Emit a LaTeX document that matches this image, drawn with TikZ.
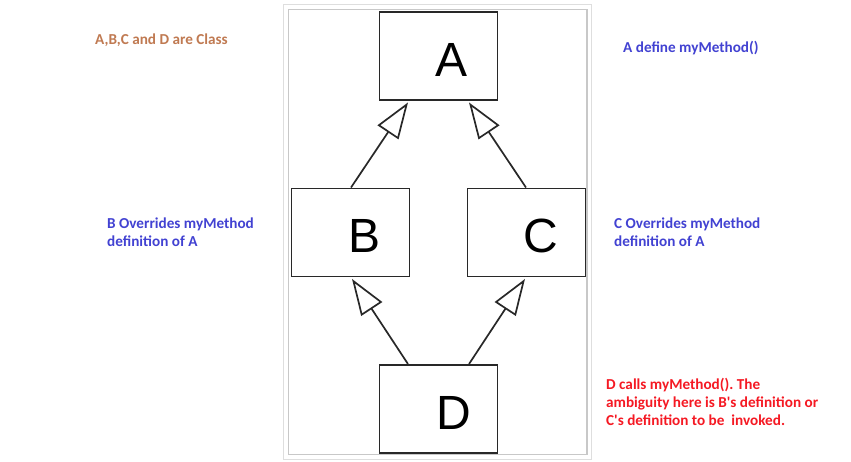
\documentclass[tikz,border=0pt]{standalone}
\usepackage{fontspec}
\newfontfamily\notefont{Carlito}
\newfontfamily\boxfont{Liberation Sans}
\usetikzlibrary{arrows.meta,calc}
\definecolor{noteblue}{RGB}{66,66,210}
\definecolor{notered}{RGB}{245,25,35}
\definecolor{notebrown}{RGB}{192,122,82}
\definecolor{linegray}{RGB}{40,40,40}
\definecolor{frameout}{RGB}{222,222,222}
\definecolor{framein}{RGB}{200,200,200}
\frenchspacing
\tikzset{
  classbox/.style={draw=linegray, line width=1.9pt, minimum width=118pt, minimum height=88pt, inner sep=0pt},
  classname/.style={font=\boxfont\fontsize{48}{48}\selectfont, inner sep=0pt},
  note/.style={font=\notefont\bfseries\fontsize{15.2}{18}\selectfont, align=left, anchor=west, inner sep=0pt},
  inherit/.style={draw=linegray, line width=1.7pt, -{Triangle[open, length=36pt, width=25pt, line width=1.7pt]}}
}
\begin{document}
\begin{tikzpicture}[x=1pt, y=-1pt]
\useasboundingbox (0,0) rectangle (851,461);
\fill[white] (0,0) rectangle (851,461);
% frame
\draw[frameout, line width=1.2pt] (283.5,4.5) rectangle (591.5,459.5);
\draw[framein, line width=1.6pt] (288.5,9.5) rectangle (587,454.5);
% class boxes
\node[classbox] (A) at (438.5,56) {};
\node[classbox] (B) at (350.5,232.5) {};
\node[classbox] (C) at (526.5,232.5) {};
\node[classbox] (D) at (438.5,409) {};
% class names
\node[classname] (nA) at (451.5,60) {A};
\node[classname] (nB) at (365,236) {B};
\node[classname] (nC) at (541,236) {C};
\node[classname] (nD) at (453.5,412.5) {D};
% inheritance arrows
\draw[inherit] ($(B.north)+(0.5,0)$) -- ($(A.south)+(-30.5,1.5)$);
\draw[inherit] ($(C.north)+(-0.5,0)$) -- ($(A.south)+(30.5,1.5)$);
\draw[inherit] ($(D.north)+(-30.5,0)$) -- ($(B.south)+(1.5,1.5)$);
\draw[inherit] ($(D.north)+(30.5,0)$) -- ($(C.south)+(-1.5,1.5)$);
% notes
\node[note, text=notebrown] (t1) at (95,40) {A,B,C and D are Class};
\node[note, text=noteblue] (t2) at (623,48) {A define myMethod()};
\node[note, text=noteblue] (t3) at (107,232) {B Overrides myMethod\\definition of A};
\node[note, text=noteblue] (t4) at (614,232.5) {C Overrides myMethod\\definition of A};
\node[note, text=notered] (t5) at (606,401.5) {D calls myMethod(). The\\ambiguity here is B's definition or\\C's definition to be\ \ invoked.};
\end{tikzpicture}
\end{document}
